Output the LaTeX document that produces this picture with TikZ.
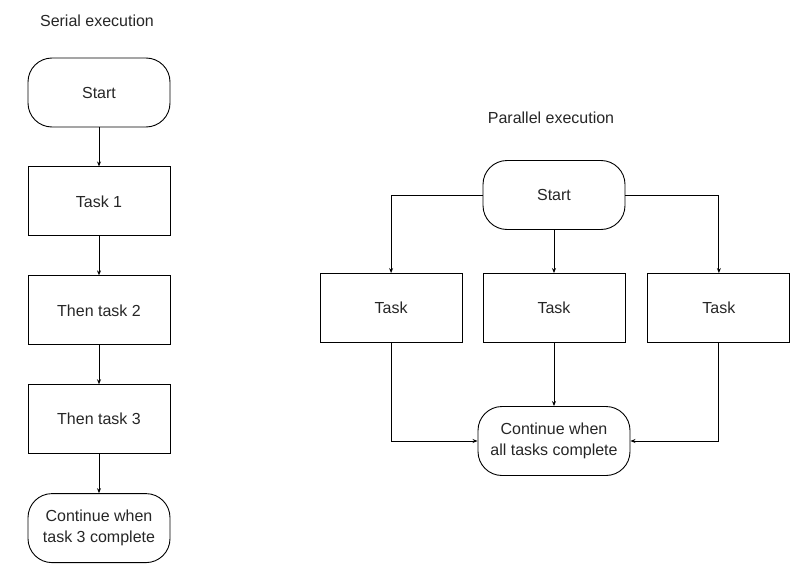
\documentclass[tikz,border=0pt]{standalone}
\usepackage{fontspec}
\setmainfont{Liberation Sans}
\usepackage{tikz}
\usetikzlibrary{arrows.meta,positioning}

\begin{document}
\begin{tikzpicture}[x=1pt,y=-1pt,->,>={Stealth[length=5pt,width=4pt]},line width=0.9pt,
                node distance=39pt,
                font=\fontsize{16}{20.5}\selectfont,
                task box/.style={rectangle,draw,minimum width=142pt,minimum height=69pt,inner sep=2pt,text=black!85},
                end box/.style={task box,rounded corners=24pt,align=center},
                title/.style={text=black!85}]
  \useasboundingbox (0,0) rectangle (801,578);

  % serial column
  \node[title] (stitle) at (97,21) {Serial execution};
  \node[end box] (sstart) at (99,92.5) {Start};
  \node[task box] (s1) [below=of sstart] {Task 1};
  \node[task box] (s2) [below=of s1] {Then task 2};
  \node[task box] (s3) [below=of s2] {Then task 3};
  \node[end box] (scont) [below=of s3] {Continue when\\task 3 complete};

  \path
    (sstart) edge (s1)
    (s1) edge (s2)
    (s2) edge (s3)
    (s3) edge (scont)
  ;

  % parallel column
  \node[title] (ptitle) at (551,118) {Parallel execution};
  \node[end box] (pstart) at (554,195) {Start};
  \node[task box] (p2) at (554,308) {Task};
  \node[task box] (p1) [left=20pt of p2] {Task};
  \node[task box] (p3) [right=22pt of p2] {Task};
  \node[end box, minimum width=152pt] (pcont) at (554,441) {Continue when\\all tasks complete};

  \draw (pstart.west) -| (p1.north);
  \draw (pstart.east) -| (p3.north);
  \draw (pstart) -- (p2);
  \draw (p2) -- (pcont);
  \draw (p1.south) |- (pcont.west);
  \draw (p3.south) |- (pcont.east);
\end{tikzpicture}
\end{document}
